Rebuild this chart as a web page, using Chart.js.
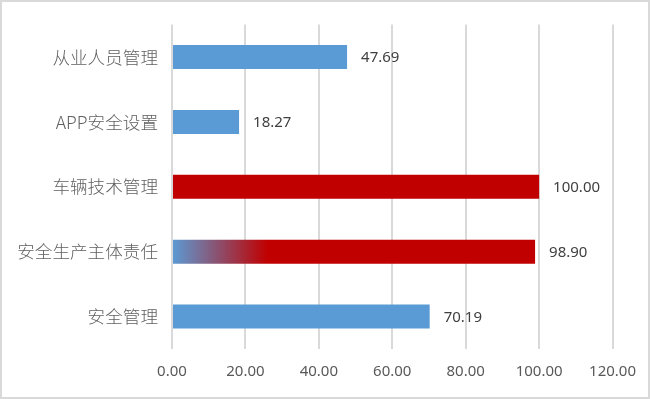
<!DOCTYPE html>
<html>
<head>
<meta charset="utf-8">
<script src="https://cdn.jsdelivr.net/npm/chart.js"></script>
<style>
    html, body { margin: 0; padding: 0; background: #fff; }
    #wrap { width: 650px; height: 399px; position: relative; }
</style>
</head>
<body>
<div id="wrap"><canvas id="barChart"></canvas></div>
<script>
// Data
const categories = ['从业人员管理', 'APP安全设置', '车辆技术管理', '安全生产主体责任', '安全管理'];
const scores = [47.69, 18.27, 100.00, 98.90, 70.19];
const xTicks = [0, 20, 40, 60, 80, 100, 120];

const BLUE = '#5B9BD5';
const RED = '#C00000';

// bar fill: red for the top scorers, the 98.90 one fades in from blue
function barFill(context) {
    const i = context.dataIndex;
    const chart = context.chart;
    if (i === 2) return RED;
    if (i === 3) {
        const x = chart.scales.x;
        if (!chart.chartArea || !x) return RED;
        const g = chart.ctx.createLinearGradient(x.getPixelForValue(0), 0, x.getPixelForValue(26), 0);
        g.addColorStop(0, BLUE);
        g.addColorStop(1, RED);
        return g;
    }
    return BLUE;
}

// value labels after each bar
const valueLabels = {
    id: 'valueLabels',
    afterDatasetsDraw(chart) {
        const ctx = chart.ctx;
        const meta = chart.getDatasetMeta(0);
        ctx.save();
        ctx.font = '15px "Noto Sans", sans-serif';
        ctx.fillStyle = '#404040';
        ctx.textAlign = 'left';
        ctx.textBaseline = 'middle';
        meta.data.forEach((bar, i) => {
            ctx.fillText(scores[i].toFixed(2), bar.x + 14, bar.y + 1);
        });
        ctx.restore();
    }
};

// outer frame
const frame = {
    id: 'frame',
    afterDraw(chart) {
        const ctx = chart.ctx;
        ctx.save();
        ctx.strokeStyle = '#d9d9d9';
        ctx.lineWidth = 2;
        ctx.strokeRect(1, 1, chart.width - 2, chart.height - 2);
        ctx.restore();
    }
};

const ctx = document.getElementById('barChart').getContext('2d');
new Chart(ctx, {
    type: 'bar',
    data: {
        labels: categories,
        datasets: [{
            data: scores,
            backgroundColor: barFill,
            barPercentage: 0.37,
            categoryPercentage: 1
        }]
    },
    options: {
        indexAxis: 'y',
        responsive: true,
        maintainAspectRatio: false,
        animation: false,
        layout: {
            padding: { top: 22, right: 36, bottom: 0, left: 0 }
        },
        plugins: {
            legend: { display: false },
            tooltip: { enabled: false }
        },
        scales: {
            x: {
                min: 0,
                max: 120,
                afterBuildTicks: function(scale) {
                    scale.ticks = xTicks.map(v => ({ value: v }));
                },
                afterFit: function(scale) {
                    scale.height = 50;
                },
                grid: {
                    color: '#d9d9d9',
                    lineWidth: 2,
                    drawTicks: false
                },
                border: { display: false },
                ticks: {
                    padding: 14,
                    color: '#595959',
                    font: { family: '"Noto Sans", sans-serif', size: 15 },
                    maxRotation: 0,
                    callback: function(value) {
                        return Number(value).toFixed(2);
                    }
                }
            },
            y: {
                afterFit: function(scale) {
                    scale.width = 172;
                },
                grid: { display: false, drawTicks: false },
                border: { display: false },
                ticks: {
                    padding: 14,
                    color: '#5f5f5f',
                    font: { family: '"Noto Sans CJK SC", sans-serif', size: 17.6, weight: 300 }
                }
            }
        }
    },
    plugins: [valueLabels, frame]
});
</script>
</body>
</html>
